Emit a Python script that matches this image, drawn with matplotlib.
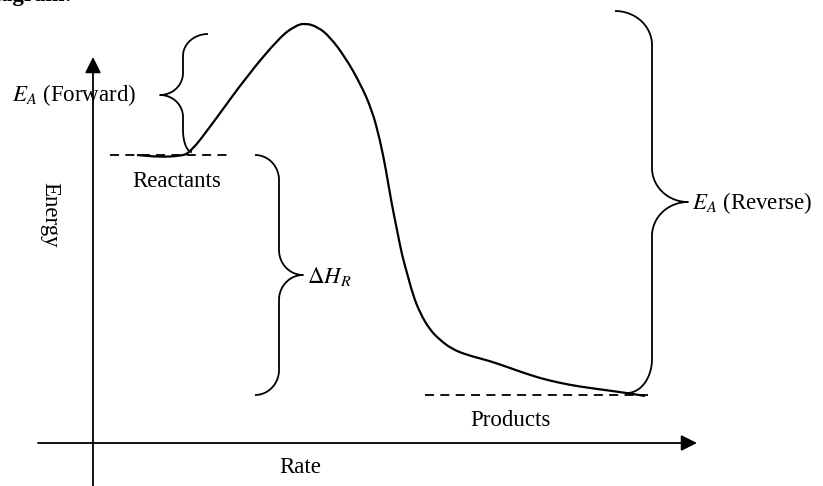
import numpy as np
import matplotlib
matplotlib.use('Agg')
import matplotlib.pyplot as plt
from matplotlib.path import Path
from matplotlib.patches import PathPatch

plt.rcParams['font.family'] = ['Liberation Serif', 'DejaVu Serif']
plt.rcParams['mathtext.fontset'] = 'stix'

# reaction path (pixel coords, y down)
curve_x = [137, 160, 180, 190, 213, 247, 280, 295, 305, 318, 330, 345, 360, 372,
           380, 386, 391, 397, 402, 407, 413, 420, 430, 440, 452, 467, 490, 510,
           530, 547, 570, 590, 627, 645]
curve_y = [155, 157, 156, 153, 123, 76, 37, 26, 23, 27, 37, 57, 83, 110,
           140, 170, 200, 230, 255, 273, 295, 313, 330, 340, 349, 355, 361, 368,
           375, 380, 385, 388, 393, 396]

reactant_level = 155
product_level = 395

labels = {'forward': r'$E_A$ (Forward)', 'reverse': r'$E_A$ (Reverse)',
          'dh': r'$\Delta H_R$', 'react': 'Reactants', 'prod': 'Products',
          'xlab': 'Rate', 'ylab': 'Energy'}

W, H = 823, 486
fig = plt.figure(figsize=(W / 100, H / 100), dpi=100)
ax = fig.add_axes([0, 0, 1, 1])
ax.set_xlim(0, W)
ax.set_ylim(H, 0)
ax.axis('off')

lw = 1.3


def arc(cx, cy, rx, ry, a0, a1, n=30):
    t = np.radians(np.linspace(a0, a1, n))
    return cx + rx * np.cos(t), cy + ry * np.sin(t)


def brace(ax, xtop, ytop, xbot, ybot, xline, xtip, ytip, r):
    # curly brace, vertical, with its point at (xtip, ytip)
    s = np.sign(xtip - xline)
    xs, ys = [], []
    rx = abs(xline - xtop)
    x, y = arc(xtop, ytop + r, rx * s, r, -90, 0)
    xs += list(x); ys += list(y)
    rt = abs(xtip - xline)
    x, y = arc(xtip, ytip - r, rt * s, r, 180, 90)
    xs += list(x); ys += list(y)
    x, y = arc(xtip, ytip + r, rt * s, r, 270, 180)
    xs += list(x); ys += list(y)
    rb = abs(xline - xbot)
    x, y = arc(xbot, ybot - r, rb * s, r, 0, 90)
    xs += list(x); ys += list(y)
    ax.plot(xs, ys, color='k', lw=lw, solid_capstyle='butt')


def smooth_path(xs, ys):
    # quadratic bezier through midpoints, read points used as control points
    pts = np.column_stack([xs, ys]).astype(float)
    verts = [pts[0], (pts[0] + pts[1]) / 2]
    codes = [Path.MOVETO, Path.LINETO]
    for i in range(1, len(pts) - 1):
        verts += [pts[i], (pts[i] + pts[i + 1]) / 2]
        codes += [Path.CURVE3, Path.CURVE3]
    verts.append(pts[-1])
    codes.append(Path.LINETO)
    return Path(verts, codes)


# axes arrows
ax.annotate('', xy=(93, 57), xytext=(93, H + 2),
            arrowprops=dict(arrowstyle='-|>', mutation_scale=24, lw=lw, color='k',
                            shrinkA=0, shrinkB=0))
ax.annotate('', xy=(697, 443), xytext=(38, 443),
            arrowprops=dict(arrowstyle='-|>', mutation_scale=24, lw=lw, color='k',
                            shrinkA=0, shrinkB=0))

# energy levels
ax.plot([110, 232], [reactant_level] * 2, 'k--', lw=lw, dashes=(5, 3.5))
ax.plot([425, 648], [product_level] * 2, 'k--', lw=lw, dashes=(5, 3.5))

ax.add_patch(PathPatch(smooth_path(curve_x, curve_y), fill=False,
                       edgecolor='k', lw=1.6))

# braces
brace(ax, 208, 34, 192, 152, 183, 160, 95, 22)
brace(ax, 255, 155, 255, 395, 279, 303, 275, 25)
brace(ax, 615, 11, 627, 393, 652, 688, 202, 34)

fs = 16.5
ax.text(12, 95, labels['forward'], fontsize=fs, va='center', ha='left')
ax.text(692, 203, labels['reverse'], fontsize=fs, va='center', ha='left')
ax.text(307, 276, labels['dh'], fontsize=fs, va='center', ha='left')
ax.text(177, 181, labels['react'], fontsize=fs, va='center', ha='center')
ax.text(510, 420, labels['prod'], fontsize=fs, va='center', ha='center')
ax.text(300, 467, labels['xlab'], fontsize=fs, va='center', ha='center')
ax.text(50, 215, labels['ylab'], fontsize=fs, va='center', ha='center', rotation=-90)
ax.text(-18, -4, 'diagram:', fontsize=fs, fontweight='bold', va='center', ha='left')

fig.savefig('out.png', dpi=100)
